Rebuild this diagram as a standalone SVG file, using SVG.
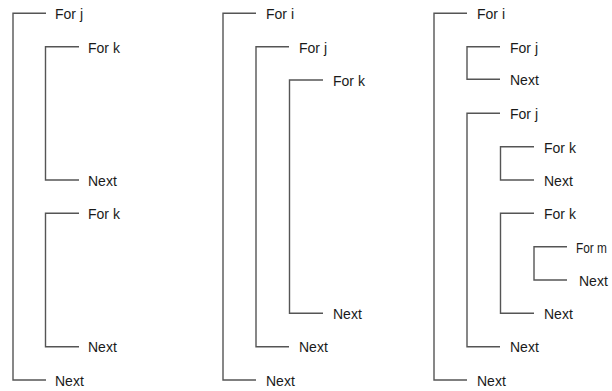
<svg xmlns="http://www.w3.org/2000/svg" width="612" height="391" viewBox="0 0 612 391">
<style>
.b{fill:none;stroke:#555;stroke-width:1.4}
text{font-family:"Liberation Sans",Arial,sans-serif;font-size:14px;fill:#1a1a1a}
</style>
<rect width="612" height="391" fill="#fff"/>
<g id="connectors">
<path class="b" d="M46 13.3H13V380H46"/>
<path class="b" d="M79 46.7H45.5V180H79"/>
<path class="b" d="M79 213.3H45.5V346.7H79"/>
<path class="b" d="M256 13.3H223V380H256"/>
<path class="b" d="M289 46.7H256V346.7H289"/>
<path class="b" d="M323 80H289.5V313.3H323"/>
<path class="b" d="M467 13.3H434V380H467"/>
<path class="b" d="M500 46.7H467V79.3H500"/>
<path class="b" d="M500 113.3H467V346.7H500"/>
<path class="b" d="M534 146.7H500.5V180H534"/>
<path class="b" d="M534 213.3H500.5V313.3H534"/>
<path class="b" d="M567 246.7H534V280H567"/>
</g>
<g id="col1">
<text x="55" y="19">For j</text>
<text x="88" y="52.5">For k</text>
<text x="88" y="185.5">Next</text>
<text x="88" y="219">For k</text>
<text x="88" y="352">Next</text>
<text x="55" y="385.5">Next</text>
</g>
<g id="col2">
<text x="266" y="19">For i</text>
<text x="299" y="52.5">For j</text>
<text x="333" y="86">For k</text>
<text x="333" y="319">Next</text>
<text x="299" y="352">Next</text>
<text x="266" y="385.5">Next</text>
</g>
<g id="col3">
<text x="477" y="19">For i</text>
<text x="510" y="52.5">For j</text>
<text x="510" y="85">Next</text>
<text x="510" y="119">For j</text>
<text x="544" y="152.5">For k</text>
<text x="544" y="185.5">Next</text>
<text x="544" y="219">For k</text>
<text x="576" y="252.5" textLength="31" lengthAdjust="spacingAndGlyphs">For m</text>
<text x="579" y="285.5">Next</text>
<text x="544" y="319">Next</text>
<text x="510" y="352">Next</text>
<text x="477" y="385.5">Next</text>
</g>
</svg>
